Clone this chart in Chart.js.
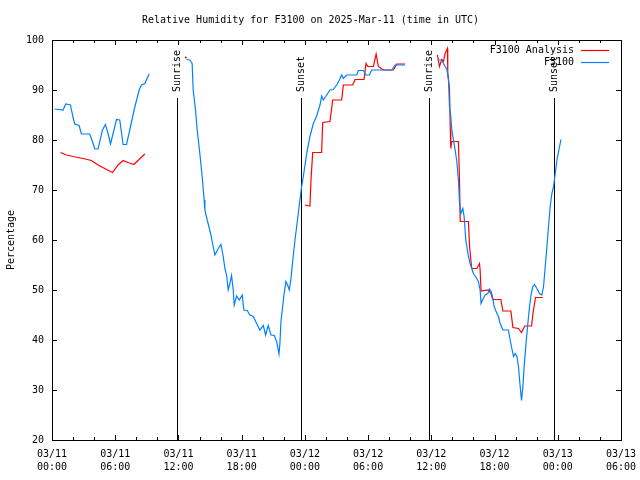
<!DOCTYPE html>
<html>
<head>
<meta charset="utf-8">
<title>Relative Humidity for F3100</title>
<script src="https://cdn.jsdelivr.net/npm/chart.js@4.4.1/dist/chart.umd.min.js"></script>
<style>
  html, body { margin: 0; padding: 0; background: #fff; }
  canvas { display: block; }
</style>
</head>
<body>
<canvas id="rh" width="640" height="480"></canvas>
<script>
// hours since 03/11 00:00 UTC, null = gap in the record
const obsHours = [
  0.26, 1.05, 1.3, 1.75, 2.0, 2.16, 2.57, 2.79, 3.58, 3.9, 4.06, 4.37, 4.79, 5.07, 5.32, 5.55, 5.8,
  6.12, 6.43, 6.75, 7.07, 7.38, 7.79, 8.27, 8.49, 8.81, 9.22,
  11,
  12.77, 13.08, 13.3, 13.4, 13.62, 13.78, 14.03, 14.25, 14.44, 14.51, 14.73, 14.82, 15.05, 15.24, 15.46,
  15.77, 16.03, 16.25, 16.41, 16.57, 16.72, 16.88, 17.04, 17.2, 17.29, 17.52, 17.77, 18.05, 18.21, 18.53,
  18.78, 19.1, 19.42, 19.73, 20.05, 20.27, 20.52, 20.78, 21.09, 21.32, 21.54, 21.63, 21.73, 21.89, 22.01,
  22.2, 22.36, 22.52, 22.68, 22.84, 23.06, 23.28, 23.47, 23.69, 23.85, 24.17, 24.48, 24.8, 25.12, 25.43,
  25.59, 25.75, 26.07, 26.38, 26.7, 27.02, 27.27, 27.49, 27.65, 27.97, 28.92, 29.07, 29.55, 29.8, 30.12,
  30.34, 32.24, 32.56, 33.51,
  35,
  36.58, 36.99, 37.15, 37.47, 37.62, 37.72, 37.85, 37.94, 38.1, 38.26, 38.42, 38.57, 38.67, 38.8, 38.99,
  39.11, 39.27, 39.42, 39.52, 39.68, 39.84, 39.99, 40.25, 40.47, 40.63, 40.72, 40.85, 41.11, 41.36, 41.52,
  41.68, 41.84, 41.96, 42.15, 42.37, 42.53, 42.79, 43.32, 43.48, 43.64, 43.8, 43.96, 44.12, 44.27, 44.43,
  44.56, 44.69, 44.81, 45.0, 45.16, 45.32, 45.48, 45.64, 45.79, 46.02, 46.27, 46.49, 46.65, 46.81, 46.97,
  47.12, 47.28, 47.44, 47.6, 47.76, 47.92, 48.3
];
const obsValues = [
  86.2, 86, 87.2, 87, 84.5, 83.2, 82.9, 81.2, 81.2, 79.3, 78.2, 78.2, 82, 83.1, 81.3, 79.2, 81.3,
  84.1, 84, 79.1, 79.1, 82, 86, 90, 91, 91.3, 93.2,
  null,
  96.1, 96, 95.3, 90, 86, 82, 77.3, 72.7, 68, 66, 64, 63.3, 61.3, 59.3, 57,
  58.3, 59.1, 56.7, 54.3, 53, 50, 51.3, 52.9, 50, 47, 48.8, 48, 49, 46, 45.9,
  45, 44.7, 43.3, 42, 42.9, 41, 42.9, 41, 40.9, 39.7, 37.2, 39.3, 43.7, 46.7, 49,
  51.7, 51, 50, 52.3, 55.7, 60, 63.7, 67, 70.7, 72.7, 77.3, 80.7, 83.3, 84.8, 87,
  88.8, 88, 89, 90, 90.1, 91, 92, 93, 92.3, 93, 93, 93.9, 93.9, 93, 93,
  94, 94, 95, 95,
  null,
  96, 96, 95.3, 94.1, 92.7, 86.7, 84.7, 82, 80, 78, 75.7, 72, 67.7, 65.3, 66.3,
  64.7, 60, 58, 56.7, 55.3, 54.3, 53.3, 52.5, 51.7, 50, 47.3, 48, 49, 49.3, 50.2,
  49.7, 48.3, 46.7, 45.7, 44.7, 43.3, 42, 42, 40, 38.3, 36.7, 37.3, 36.7, 34.7, 30.7,
  27.9, 30.7, 34.7, 39.7, 43.3, 46.7, 49.3, 50.7, 51.1, 50.3, 49.3, 49, 50.7, 54.7, 58.7,
  62.7, 66.7, 69.3, 70.7, 73.3, 76, 80.1
];

const analysisHours = [
  0.8, 1.37, 2.0, 2.95, 3.74, 4.37, 5.0, 5.74, 6.27, 6.75, 7.22, 7.76, 8.81,
  10,
  12.7,
  18,
  24.0, 24.48, 24.58, 24.74, 25.59, 25.69, 26.38, 26.64, 27.49, 27.65, 28.54, 28.76, 29.61, 29.8,
  29.96, 30.5, 30.76, 30.97, 31.45, 32.4, 32.72, 33.51,
  35,
  36.58, 36.77, 36.99, 37.15, 37.31, 37.53, 37.56, 37.72, 37.8, 37.85, 37.94, 38.57, 38.67, 38.74,
  39.52, 39.62, 39.75, 39.84, 40.32, 40.57, 40.63, 40.72, 41.42, 41.65, 41.84, 42.6, 42.79, 43.55,
  43.74, 44.27, 44.56, 44.87, 45.51, 45.67, 45.89, 46.59
];
const analysisValues = [
  77.5, 77, 76.7, 76.3, 75.9, 75, 74.3, 73.5, 75, 75.9, 75.5, 75.1, 77.2,
  null,
  96.5,
  null,
  67, 66.8, 72, 77.5, 77.5, 83.5, 83.7, 88, 88, 91, 91, 92.1, 92.1, 95.3,
  94.7, 94.7, 97.2, 94.7, 94, 94, 95.2, 95.2,
  null,
  97, 94.7, 96.1, 95.7, 97.3, 98.3, 93, 90.5, 82, 78.3, 79.7, 79.7, 72.3, 63.7,
  63.7, 59, 56, 54.3, 54.3, 55.3, 54, 49.8, 50, 49.3, 48.1, 48.1, 45.8, 45.8,
  42.5, 42.3, 41.5, 42.8, 42.8, 45.7, 48.5, 48.5
];

const sunHours = [11.85, 23.63, 35.82, 47.64];
const sunLabels = ['Sunrise', 'Sunset', 'Sunrise', 'Sunset'];

const FONT = 'DejaVu Sans Mono';

const toPoints = (hours, values) => hours.map((h, i) => ({ x: h, y: values[i] }));

// a single reading between two gaps gets a dot, otherwise no markers
const lonePoint = (values) => (ctx) => {
    const i = ctx.dataIndex;
    if (values[i] === null) return 0;
    const prev = i > 0 ? values[i - 1] : null;
    const next = i < values.length - 1 ? values[i + 1] : null;
    return prev === null && next === null ? 1 : 0;
};

const pad2 = (n) => String(n).padStart(2, '0');

// frame with inward tick marks, like gnuplot
const framePlugin = {
    id: 'frame',
    afterDatasetsDraw(chart) {
        const { ctx, chartArea: a, scales: { x, y } } = chart;
        ctx.save();
        ctx.strokeStyle = '#000';
        ctx.lineWidth = 1;
        ctx.strokeRect(a.left + 0.5, a.top + 0.5, a.right - a.left, a.bottom - a.top);
        ctx.beginPath();
        for (let h = x.min; h <= x.max; h += 2) {
            const px = Math.round(x.getPixelForValue(h)) + 0.5;
            const len = h % 6 === 0 ? 5 : 3;
            ctx.moveTo(px, a.bottom);
            ctx.lineTo(px, a.bottom - len);
            ctx.moveTo(px, a.top);
            ctx.lineTo(px, a.top + len);
        }
        for (let v = y.min; v <= y.max; v += 10) {
            const py = Math.round(y.getPixelForValue(v)) + 0.5;
            ctx.moveTo(a.left, py);
            ctx.lineTo(a.left + 5, py);
            ctx.moveTo(a.right, py);
            ctx.lineTo(a.right - 5, py);
        }
        ctx.stroke();

        // key in the top right corner
        ctx.font = '10px "' + FONT + '"';
        ctx.fillStyle = '#000';
        ctx.textAlign = 'right';
        ctx.textBaseline = 'middle';
        const keyOrder = [1, 0];
        keyOrder.forEach((di, row) => {
            const ds = chart.data.datasets[di];
            const ky = 50 + row * 12;
            ctx.fillText(ds.label, 574, ky);
            ctx.beginPath();
            ctx.strokeStyle = ds.borderColor;
            ctx.lineWidth = 1.2;
            ctx.moveTo(581, ky + 0.5);
            ctx.lineTo(609, ky + 0.5);
            ctx.stroke();
        });
        ctx.restore();
    }
};

const sunPlugin = {
    id: 'sun',
    beforeDatasetsDraw(chart) {
        const { ctx, chartArea: a, scales: { x } } = chart;
        ctx.save();
        ctx.strokeStyle = '#000';
        ctx.fillStyle = '#000';
        ctx.lineWidth = 1;
        ctx.font = '10px "' + FONT + '"';
        sunHours.forEach((h, i) => {
            const px = Math.round(x.getPixelForValue(h)) + 0.5;
            ctx.beginPath();
            ctx.moveTo(px, 98);
            ctx.lineTo(px, a.bottom);
            ctx.stroke();
            ctx.save();
            ctx.translate(px, 92);
            ctx.rotate(-Math.PI / 2);
            ctx.textAlign = 'left';
            ctx.textBaseline = 'middle';
            ctx.fillText(sunLabels[i], 0, 0);
            ctx.restore();
        });
        ctx.restore();
    }
};

new Chart(document.getElementById('rh'), {
    type: 'line',
    data: {
        datasets: [
            {
                label: 'F3100',
                data: toPoints(obsHours, obsValues),
                borderColor: '#0080ff',
                backgroundColor: '#0080ff',
                borderWidth: 1.2,
                pointRadius: lonePoint(obsValues),
                spanGaps: false,
                fill: false,
            },
            {
                label: 'F3100 Analysis',
                data: toPoints(analysisHours, analysisValues),
                borderColor: '#ff0000',
                backgroundColor: '#ff0000',
                borderWidth: 1.2,
                pointRadius: lonePoint(analysisValues),
                pointBorderWidth: 0,
                spanGaps: false,
                fill: false,
            },
        ],
    },
    options: {
        responsive: false,
        animation: false,
        devicePixelRatio: 1,
        layout: { padding: { left: 0, right: 19, top: 0, bottom: 0 } },
        plugins: {
            legend: { display: false },
            tooltip: { enabled: false },
            title: {
                display: true,
                text: 'Relative Humidity for F3100 on 2025-Mar-11 (time in UTC)',
                color: '#000',
                font: { family: FONT, size: 10, weight: 'normal', lineHeight: 1.2 },
                padding: { top: 14, bottom: 14 },
            },
        },
        scales: {
            x: {
                type: 'linear',
                min: 0,
                max: 54,
                grid: { display: false, drawTicks: false },
                border: { display: false },
                afterFit: (s) => {
                    s.height = 40;
                    s.paddingLeft = 0;
                    s.paddingRight = 0;
                },
                ticks: {
                    stepSize: 2,
                    autoSkip: false,
                    maxRotation: 0,
                    padding: 7.5,
                    color: '#000',
                    font: { family: FONT, size: 10, lineHeight: 1.3 },
                    callback: (v) => {
                        if (v % 6 !== 0) return '';
                        return ['03/' + pad2(11 + Math.floor(v / 24)), pad2(v % 24) + ':00'];
                    },
                },
            },
            y: {
                min: 20,
                max: 100,
                grid: { display: false, drawTicks: false },
                border: { display: false },
                afterFit: (s) => {
                    s.width = 52;
                    s.paddingTop = 0;
                    s.paddingBottom = 0;
                },
                title: {
                    display: true,
                    text: 'Percentage',
                    color: '#000',
                    font: { family: FONT, size: 10, lineHeight: 1.2 },
                    padding: { top: 5, bottom: 0 },
                },
                ticks: {
                    stepSize: 10,
                    padding: 8,
                    color: '#000',
                    font: { family: FONT, size: 10 },
                },
            },
        },
    },
    plugins: [sunPlugin, framePlugin],
});
</script>
</body>
</html>
